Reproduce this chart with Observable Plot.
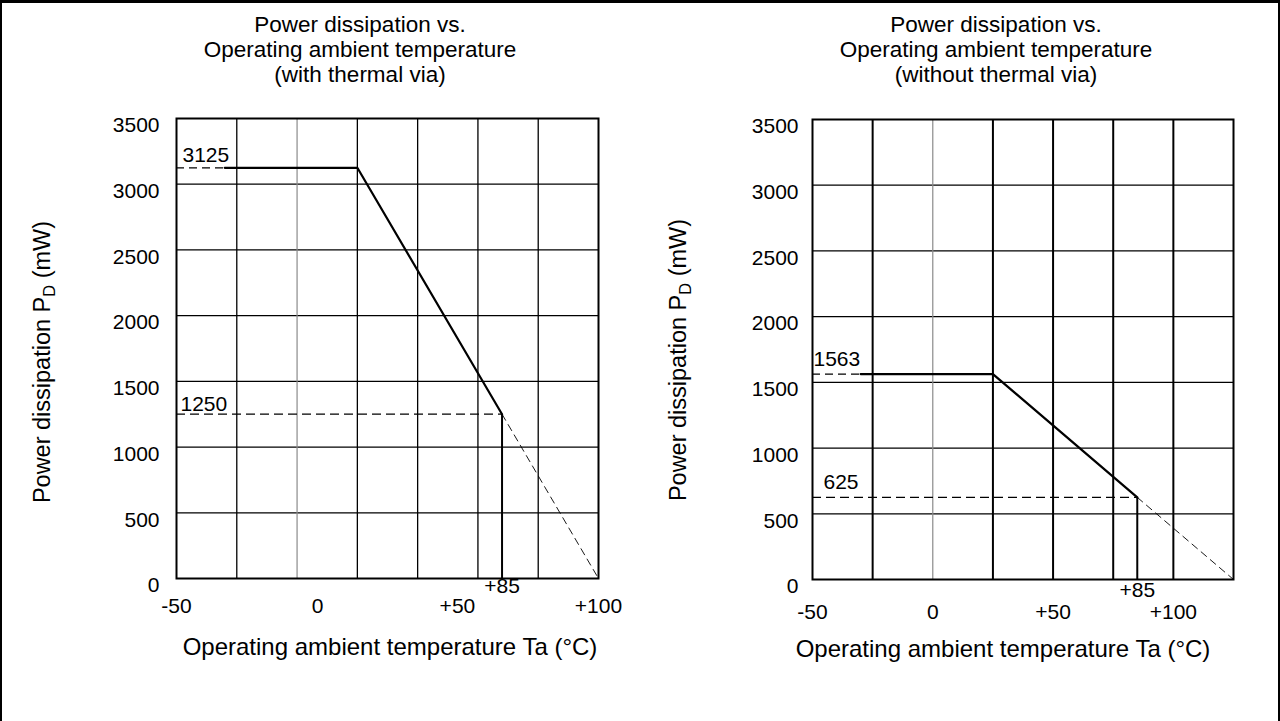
<!DOCTYPE html>
<html>
<head>
<meta charset="utf-8">
<script src="https://cdn.jsdelivr.net/npm/d3@7"></script>
<script src="https://cdn.jsdelivr.net/npm/@observablehq/plot@0.6"></script>
<style>
  html, body { margin: 0; padding: 0; background: #fff; }
  #page { position: relative; width: 1280px; height: 721px; overflow: hidden; background: #fff;
          font-family: "Liberation Sans", Arial, Helvetica, sans-serif; color: #000; }
  .border { position: absolute; background: #000; }
  .title { position: absolute; width: 440px; text-align: center; font-size: 22.5px; line-height: 25px; white-space: nowrap; }
  .xtitle { position: absolute; width: 500px; text-align: center; font-size: 24px; line-height: 26px; white-space: nowrap; }
  .ytitle { position: absolute; width: 400px; height: 24px; text-align: center; font-size: 23.5px; line-height: 24px;
            white-space: nowrap; transform: rotate(-90deg); transform-origin: 50% 50%; }
  .ytitle sub { font-size: 70%; vertical-align: -0.3em; line-height: 0; }
  .panel { position: absolute; }
  .panel svg { display: block; font-family: "Liberation Sans", Arial, Helvetica, sans-serif; }
</style>
</head>
<body>
<div id="page">
  <div class="border" style="left:0;top:0;width:1280px;height:3px"></div>
  <div class="border" style="left:0;top:0;width:2px;height:721px"></div>
  <div class="border" style="left:1278px;top:0;width:2px;height:721px"></div>

  <div class="title" id="titleL" style="left:140px;top:12px"></div>
  <div class="title" id="titleR" style="left:776px;top:12px"></div>

  <div class="ytitle" id="ytitleL" style="left:-158px;top:350px"></div>
  <div class="ytitle" id="ytitleR" style="left:478px;top:348px"></div>

  <div class="panel" id="plotL" style="left:0;top:92px"></div>
  <div class="panel" id="plotR" style="left:640px;top:93px"></div>

  <div class="xtitle" id="xtitleL" style="left:140px;top:634px"></div>
  <div class="xtitle" id="xtitleR" style="left:753px;top:636px"></div>
</div>
<script>
// ---------- data ----------
const titleLeft = ["Power dissipation vs.", "Operating ambient temperature", "(with thermal via)"];
const titleRight = ["Power dissipation vs.", "Operating ambient temperature", "(without thermal via)"];
const xTitle = "Operating ambient temperature Ta (°C)";
const yTitleMain = "Power dissipation P";
const yTitleSub = "D";
const yTitleUnit = " (mW)";

const xDomain = [-50, 125];
const yDomain = [0, 3500];
const xGrid = [-25, 0, 25, 50, 75, 100];
const yGrid = [500, 1000, 1500, 2000, 2500, 3000];
const yTickValues = [0, 500, 1000, 1500, 2000, 2500, 3000, 3500];

// tick labels (as printed) and where they sit on the temperature axis
const xTickLabels = ["-50", "0", "+50", "+100"];
const xTickPosLeft = [-50, 8.5, 66.5, 125];
const xTickPosRight = [-50, 0, 50, 100];
const ratedTempLabel = "+85";
const ratedTemp = 85;
const xStart = -50;
const minOpTemp = -30;

// derating curves: temperature (°C) and power (mW)
const curveTemp = [-30, 25, 85];
const curvePowerLeft = [3125, 3125, 1250];
const curvePowerRight = [1563, 1563, 625];
const extTemp = [85, 125];
const extPowerLeft = [1250, 0];
const extPowerRight = [625, 0];

// ---------- titles ----------
document.getElementById("titleL").innerHTML = titleLeft.join("<br>");
document.getElementById("titleR").innerHTML = titleRight.join("<br>");
document.getElementById("xtitleL").textContent = xTitle;
document.getElementById("xtitleR").textContent = xTitle;
for (const id of ["ytitleL", "ytitleR"]) {
  const el = document.getElementById(id);
  el.append(yTitleMain);
  const s = document.createElement("sub"); s.textContent = yTitleSub; el.append(s);
  el.append(yTitleUnit);
}

// ---------- chart builder ----------
function build(opts) {
  const {power, extPower} = opts;
  const pMax = power[0];
  const pRated = power[power.length - 1];
  return Plot.plot({
    width: 640,
    height: 538,
    marginLeft: opts.mLeft,
    marginRight: opts.mRight,
    marginTop: 26,
    marginBottom: 52,
    style: {background: "transparent", color: "#000"},
    x: {domain: xDomain, axis: null},
    y: {domain: yDomain, axis: null},
    marks: [
      // grid
      Plot.ruleY(yGrid, {stroke: "#000", strokeWidth: 1.3}),
      Plot.ruleX(xGrid.filter(d => d !== 0), {stroke: "#000", strokeWidth: opts.vGridWidth}),
      Plot.ruleX(xGrid.filter(d => d === 0), {stroke: "#8a8a8a", strokeWidth: 1.2}),
      // dashed reference lines
      Plot.ruleY([pMax], {x1: xStart, x2: minOpTemp, stroke: "#000", strokeWidth: 1.2, strokeDasharray: "8,5"}),
      Plot.ruleY([pRated], {x1: xStart, x2: ratedTemp, stroke: "#000", strokeWidth: 1.2, strokeDasharray: "9,5"}),
      Plot.line(extTemp.map((t, i) => ({t, p: extPower[i]})),
        {x: "t", y: "p", stroke: "#000", strokeWidth: 0.9, strokeDasharray: "7,5"}),
      // rated-temperature vertical
      Plot.ruleX([ratedTemp], {y1: 0, y2: pRated, stroke: "#000", strokeWidth: 2}),
      // derating curve
      Plot.line(curveTemp.map((t, i) => ({t, p: power[i]})),
        {x: "t", y: "p", stroke: "#000", strokeWidth: 2.2}),
      Plot.frame({stroke: "#000", strokeWidth: 2}),
      // y tick labels
      Plot.text(yTickValues, {y: d => d, text: d => String(d), frameAnchor: "left", textAnchor: "end",
        dx: opts.yLabelDx, dy: 7, fontSize: 21, fill: "#000"}),
      // x tick labels
      Plot.text(xTickLabels, {x: (d, i) => opts.tickPos[i], text: d => d, frameAnchor: "bottom",
        dy: opts.tickDy, fontSize: 21, fill: "#000"}),
      Plot.text([ratedTempLabel], {x: ratedTemp, text: d => d, frameAnchor: "bottom",
        dy: opts.ratedDy, fontSize: 21, fill: "#000"}),
      // value annotations
      Plot.text([pMax], {x: xStart, y: d => d, text: d => String(d), textAnchor: "start",
        dx: opts.annDx[0], dy: opts.annDy[0], fontSize: 21, fill: "#000"}),
      Plot.text([pRated], {x: xStart, y: d => d, text: d => String(d), textAnchor: "start",
        dx: opts.annDx[1], dy: opts.annDy[1], fontSize: 21, fill: "#000"})
    ]
  });
}

document.getElementById("plotL").append(build({
  power: curvePowerLeft, extPower: extPowerLeft, tickPos: xTickPosLeft,
  vGridWidth: 1.3, mLeft: 176, mRight: 42, tickDy: 34, ratedDy: 14, yLabelDx: -17,
  annDx: [6, 4], annDy: [-13, -10]
}));
document.getElementById("plotR").append(build({
  power: curvePowerRight, extPower: extPowerRight, tickPos: xTickPosRight,
  vGridWidth: 2, mLeft: 172, mRight: 47, tickDy: 39, ratedDy: 17, yLabelDx: -14,
  annDx: [1, 11], annDy: [-15, -15]
}));
</script>
</body>
</html>
